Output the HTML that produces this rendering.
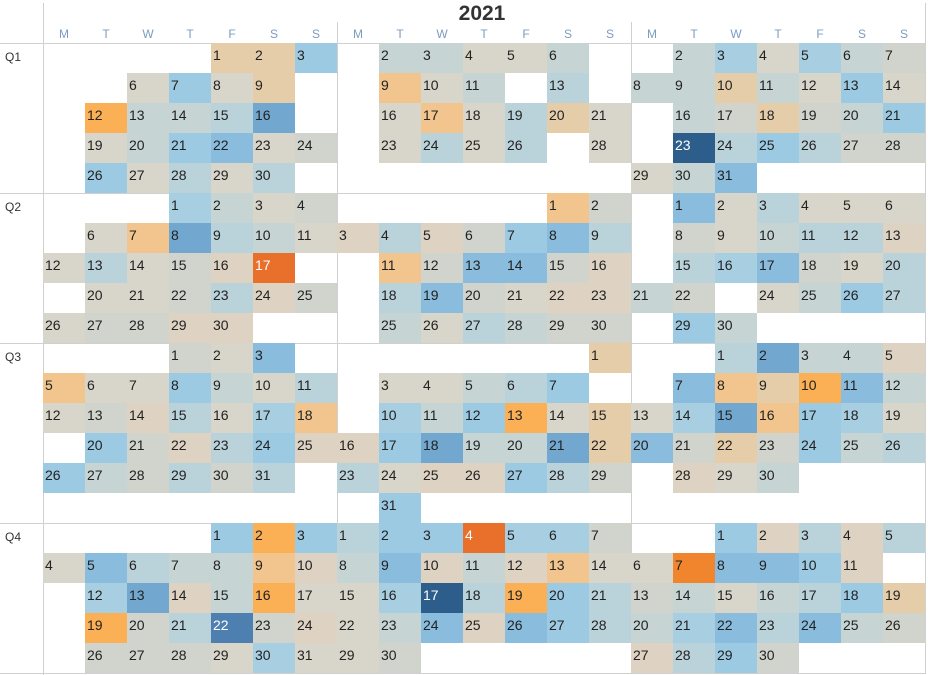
<!DOCTYPE html>
<html><head><meta charset="utf-8"><style>
body{margin:0;width:928px;height:675px;background:#fff;position:relative;overflow:hidden;font-family:"Liberation Sans",sans-serif}
.vl{position:absolute;width:1px;background:#d0d0d0}
.hl{position:absolute;height:1px;background:#d0d0d0;left:0;width:926px}
.p{position:absolute;display:grid;grid-template-columns:repeat(7,42px);grid-auto-rows:30px;width:294px}
.p i,.p u{font-style:normal;text-decoration:none;display:block;font-size:14px;color:#222;padding:5px 0 0 2px;box-sizing:border-box;line-height:14px}
.t{background:#e5cda9}.m{background:#9ccae2}.b{background:#d8d5ca}.c{background:#d0d4cd}.g{background:#c6d4d3}.l{background:#bad2d9}.k{background:#a8cfe1}.n{background:#89bcdd}.M{background:#72a8d0}.D{background:#2d5d8a;color:#fff!important}.o{background:#f3c58e}.O{background:#fbb056}.R{background:#e8702a;color:#fff!important}.e{background:#ded3c2}.E{background:#4d80b0;color:#fff!important}.F{background:#f0852e}
.d{position:absolute;top:27px;width:42px;text-align:center;font-size:12px;color:#7c9cbf}
.q{position:absolute;left:5px;font-size:12px;color:#333}
</style></head><body>
<div style="position:absolute;left:0;width:928px;top:2px;text-align:center;font-size:21px;font-weight:bold;color:#333;padding-left:36px;box-sizing:border-box">2021</div>
<div class="vl" style="left:43px;top:3px;height:672px"></div>
<div class="vl" style="left:337px;top:22px;height:652px"></div>
<div class="vl" style="left:631px;top:22px;height:652px"></div>
<div class="vl" style="left:925px;top:3px;height:671px"></div>
<div class="hl" style="top:43px"></div><div class="hl" style="top:193px"></div><div class="hl" style="top:343px"></div><div class="hl" style="top:523px"></div><div class="hl" style="top:673px"></div>
<div class="d" style="left:43px">M</div><div class="d" style="left:85px">T</div><div class="d" style="left:127px">W</div><div class="d" style="left:169px">T</div><div class="d" style="left:211px">F</div><div class="d" style="left:253px">S</div><div class="d" style="left:295px">S</div>
<div class="d" style="left:337px">M</div><div class="d" style="left:379px">T</div><div class="d" style="left:421px">W</div><div class="d" style="left:463px">T</div><div class="d" style="left:505px">F</div><div class="d" style="left:547px">S</div><div class="d" style="left:589px">S</div>
<div class="d" style="left:631px">M</div><div class="d" style="left:673px">T</div><div class="d" style="left:715px">W</div><div class="d" style="left:757px">T</div><div class="d" style="left:799px">F</div><div class="d" style="left:841px">S</div><div class="d" style="left:883px">S</div>
<div class="q" style="top:50px">Q1</div><div class="q" style="top:200px">Q2</div><div class="q" style="top:350px">Q3</div><div class="q" style="top:530px">Q4</div>

<!-- Jan -->
<div class="p" style="left:43px;top:43px">
<u></u><u></u><u></u><u></u><i class="t">1</i><i class="t">2</i><i class="m">3</i>
<u></u><u></u><i class="b">6</i><i class="m">7</i><i class="b">8</i><i class="t">9</i><u></u>
<u></u><i class="O">12</i><i class="g">13</i><i class="g">14</i><i class="l">15</i><i class="M">16</i><u></u>
<u></u><i class="b">19</i><i class="g">20</i><i class="m">21</i><i class="n">22</i><i class="b">23</i><i class="c">24</i>
<u></u><i class="m">26</i><i class="b">27</i><i class="l">28</i><i class="b">29</i><i class="l">30</i><u></u>
</div>
<!-- Feb -->
<div class="p" style="left:337px;top:43px">
<u></u><i class="g">2</i><i class="g">3</i><i class="b">4</i><i class="b">5</i><i class="g">6</i><u></u>
<u></u><i class="o">9</i><i class="b">10</i><i class="g">11</i><u></u><i class="l">13</i><u></u>
<u></u><i class="b">16</i><i class="o">17</i><i class="b">18</i><i class="l">19</i><i class="t">20</i><i class="b">21</i>
<u></u><i class="b">23</i><i class="l">24</i><i class="b">25</i><i class="l">26</i><u></u><i class="b">28</i>
</div>
<!-- Mar -->
<div class="p" style="left:631px;top:43px">
<u></u><i class="g">2</i><i class="k">3</i><i class="b">4</i><i class="k">5</i><i class="g">6</i><i class="c">7</i>
<i class="g">8</i><i class="g">9</i><i class="t">10</i><i class="g">11</i><i class="b">12</i><i class="m">13</i><i class="b">14</i>
<u></u><i class="g">16</i><i class="c">17</i><i class="t">18</i><i class="c">19</i><i class="g">20</i><i class="m">21</i>
<u></u><i class="D">23</i><i class="l">24</i><i class="m">25</i><i class="l">26</i><i class="c">27</i><i class="c">28</i>
<i class="b">29</i><i class="g">30</i><i class="n">31</i>
</div>
<!-- Apr -->
<div class="p" style="left:43px;top:193px">
<u></u><u></u><u></u><i class="k">1</i><i class="g">2</i><i class="b">3</i><i class="c">4</i>
<u></u><i class="b">6</i><i class="o">7</i><i class="M">8</i><i class="l">9</i><i class="g">10</i><i class="b">11</i>
<i class="b">12</i><i class="l">13</i><i class="b">14</i><i class="c">15</i><i class="e">16</i><i class="R">17</i><u></u>
<u></u><i class="b">20</i><i class="b">21</i><i class="c">22</i><i class="l">23</i><i class="e">24</i><i class="c">25</i>
<i class="b">26</i><i class="c">27</i><i class="c">28</i><i class="e">29</i><i class="e">30</i>
</div>
<!-- May -->
<div class="p" style="left:337px;top:193px">
<u></u><u></u><u></u><u></u><u></u><i class="o">1</i><i class="c">2</i>
<i class="e">3</i><i class="l">4</i><i class="e">5</i><i class="c">6</i><i class="m">7</i><i class="n">8</i><i class="l">9</i>
<u></u><i class="o">11</i><i class="c">12</i><i class="n">13</i><i class="n">14</i><i class="c">15</i><i class="e">16</i>
<u></u><i class="l">18</i><i class="n">19</i><i class="c">20</i><i class="b">21</i><i class="e">22</i><i class="e">23</i>
<u></u><i class="g">25</i><i class="b">26</i><i class="l">27</i><i class="g">28</i><i class="c">29</i><i class="c">30</i>
</div>
<!-- Jun -->
<div class="p" style="left:631px;top:193px">
<u></u><i class="n">1</i><i class="b">2</i><i class="l">3</i><i class="b">4</i><i class="b">5</i><i class="b">6</i>
<u></u><i class="c">8</i><i class="b">9</i><i class="g">10</i><i class="l">11</i><i class="l">12</i><i class="e">13</i>
<u></u><i class="l">15</i><i class="k">16</i><i class="n">17</i><i class="c">18</i><i class="b">19</i><i class="l">20</i>
<i class="g">21</i><i class="c">22</i><u></u><i class="b">24</i><i class="g">25</i><i class="m">26</i><i class="l">27</i>
<u></u><i class="m">29</i><i class="g">30</i>
</div>
<!-- Jul -->
<div class="p" style="left:43px;top:343px">
<u></u><u></u><u></u><i class="c">1</i><i class="b">2</i><i class="n">3</i><u></u>
<i class="o">5</i><i class="b">6</i><i class="b">7</i><i class="m">8</i><i class="g">9</i><i class="b">10</i><i class="l">11</i>
<i class="b">12</i><i class="c">13</i><i class="e">14</i><i class="l">15</i><i class="b">16</i><i class="k">17</i><i class="o">18</i>
<u></u><i class="m">20</i><i class="c">21</i><i class="e">22</i><i class="l">23</i><i class="m">24</i><i class="e">25</i>
<i class="m">26</i><i class="g">27</i><i class="c">28</i><i class="l">29</i><i class="c">30</i><i class="l">31</i>
</div>
<!-- Aug -->
<div class="p" style="left:337px;top:343px">
<u></u><u></u><u></u><u></u><u></u><u></u><i class="t">1</i>
<u></u><i class="b">3</i><i class="b">4</i><i class="g">5</i><i class="l">6</i><i class="m">7</i><u></u>
<u></u><i class="k">10</i><i class="g">11</i><i class="m">12</i><i class="O">13</i><i class="b">14</i><i class="t">15</i>
<i class="e">16</i><i class="m">17</i><i class="M">18</i><i class="g">19</i><i class="g">20</i><i class="M">21</i><i class="t">22</i>
<i class="l">23</i><i class="b">24</i><i class="e">25</i><i class="e">26</i><i class="m">27</i><i class="l">28</i><i class="c">29</i>
<u></u><i class="m">31</i>
</div>
<!-- Sep -->
<div class="p" style="left:631px;top:343px">
<u></u><u></u><i class="l">1</i><i class="M">2</i><i class="g">3</i><i class="g">4</i><i class="e">5</i>
<u></u><i class="n">7</i><i class="o">8</i><i class="t">9</i><i class="O">10</i><i class="n">11</i><i class="g">12</i>
<i class="b">13</i><i class="k">14</i><i class="M">15</i><i class="o">16</i><i class="m">17</i><i class="k">18</i><i class="b">19</i>
<i class="n">20</i><i class="c">21</i><i class="t">22</i><i class="c">23</i><i class="m">24</i><i class="g">25</i><i class="l">26</i>
<u></u><i class="e">28</i><i class="b">29</i><i class="g">30</i>
</div>
<!-- Oct -->
<div class="p" style="left:43px;top:523px">
<u></u><u></u><u></u><u></u><i class="m">1</i><i class="O">2</i><i class="m">3</i>
<i class="b">4</i><i class="n">5</i><i class="l">6</i><i class="g">7</i><i class="g">8</i><i class="o">9</i><i class="e">10</i>
<u></u><i class="k">12</i><i class="M">13</i><i class="e">14</i><i class="g">15</i><i class="O">16</i><i class="b">17</i>
<u></u><i class="O">19</i><i class="c">20</i><i class="l">21</i><i class="E">22</i><i class="c">23</i><i class="e">24</i>
<u></u><i class="c">26</i><i class="c">27</i><i class="c">28</i><i class="b">29</i><i class="k">30</i><i class="b">31</i>
</div>
<!-- Nov -->
<div class="p" style="left:337px;top:523px">
<i class="l">1</i><i class="m">2</i><i class="m">3</i><i class="R">4</i><i class="k">5</i><i class="k">6</i><i class="c">7</i>
<i class="g">8</i><i class="n">9</i><i class="e">10</i><i class="g">11</i><i class="e">12</i><i class="o">13</i><i class="b">14</i>
<i class="b">15</i><i class="k">16</i><i class="D">17</i><i class="l">18</i><i class="O">19</i><i class="m">20</i><i class="l">21</i>
<i class="b">22</i><i class="g">23</i><i class="n">24</i><i class="e">25</i><i class="n">26</i><i class="m">27</i><i class="l">28</i>
<i class="b">29</i><i class="c">30</i>
</div>
<!-- Dec -->
<div class="p" style="left:631px;top:523px">
<u></u><u></u><i class="m">1</i><i class="e">2</i><i class="l">3</i><i class="e">4</i><i class="l">5</i>
<i class="b">6</i><i class="F">7</i><i class="n">8</i><i class="n">9</i><i class="m">10</i><i class="e">11</i><u></u>
<i class="c">13</i><i class="g">14</i><i class="b">15</i><i class="g">16</i><i class="l">17</i><i class="m">18</i><i class="t">19</i>
<i class="g">20</i><i class="k">21</i><i class="n">22</i><i class="l">23</i><i class="n">24</i><i class="g">25</i><i class="c">26</i>
<i class="e">27</i><i class="l">28</i><i class="m">29</i><i class="c">30</i>
</div>
</body></html>
